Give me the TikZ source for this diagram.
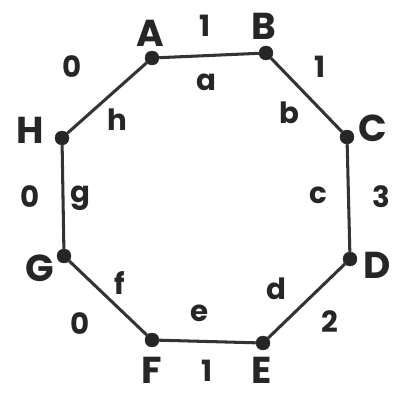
\documentclass[tikz,border=0pt]{standalone}
\usepackage{fontspec}
\setmainfont{Poppins}
\usetikzlibrary{positioning}

\begin{document}
\begin{tikzpicture}[x=0.03cm, y=-0.03cm,
  vtx/.style={circle, fill=black!85, draw=black!85, minimum size=4.2mm, inner sep=0pt},
  vname/.style={font=\fontsize{32}{34}\selectfont\bfseries, text=black!85, inner sep=1pt},
  wt/.style={font=\fontsize{25}{27}\selectfont\bfseries, text=black!85, inner sep=1pt},
  side/.style={font=\fontsize{25}{27}\selectfont\bfseries, text=black!85, inner sep=1pt},
  edge/.style={line width=2.6pt, draw=black!80}
]
\useasboundingbox (0,0) rectangle (401,395);
% vertices
\node[vtx] (A) at (152,58) {};
\node[vtx] (B) at (266,53) {};
\node[vtx] (C) at (347,137) {};
\node[vtx] (D) at (350,259) {};
\node[vtx] (E) at (263,343) {};
\node[vtx] (F) at (152,340) {};
\node[vtx] (G) at (64,256) {};
\node[vtx] (H) at (62,138) {};
\draw[edge] (A) -- (B) -- (C) -- (D) -- (E) -- (F) -- (G) -- (H) -- (A);
% vertex names
\node[vname] (lA) at (150,33) {A};
\node[vname] (lB) at (264,26) {B};
\node[vname] (lC) at (373,128) {C};
\node[vname] (lD) at (377,265) {D};
\node[vname] (lE) at (262,370) {E};
\node[vname] (lF) at (152,370) {F};
\node[vname] (lG) at (40,268) {G};
\node[vname] (lH) at (30,130) {H};
% weights
\node[wt] (wAB) at (205,26) {1};
\node[wt] (wBC) at (320,67) {1};
\node[wt] (wCD) at (381,197) {3};
\node[wt] (wDE) at (330,322) {2};
\node[wt] (wEF) at (207,371) {1};
\node[wt] (wFG) at (80,324) {0};
\node[wt] (wGH) at (30,197) {0};
\node[wt] (wHA) at (72,67) {0};
% edge names
\node[side] (sa) at (206,82) {a};
\node[side] (sb) at (289,113) {b};
\node[side] (sc) at (318,195) {c};
\node[side] (sd) at (276,289) {d};
\node[side] (se) at (200,313) {e};
\node[side] (sf) at (120,283) {f};
\node[side] (sg) at (80,198) {g};
\node[side] (sh) at (117,120) {h};
\end{tikzpicture}
\end{document}
